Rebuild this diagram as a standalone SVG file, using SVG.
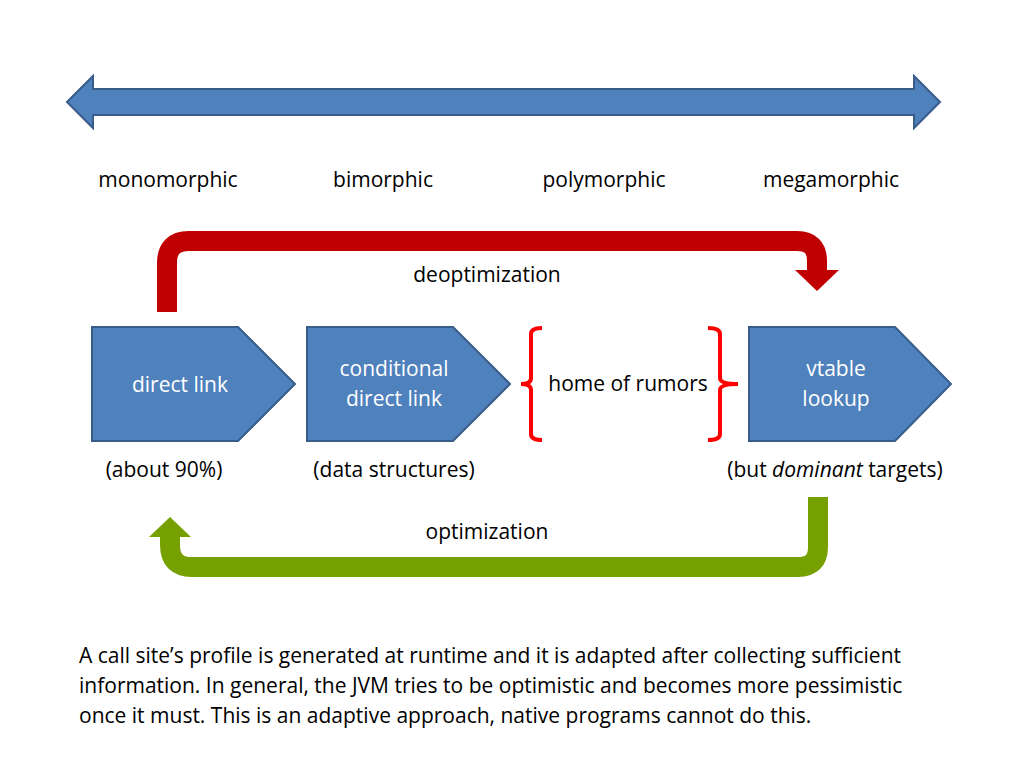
<svg xmlns="http://www.w3.org/2000/svg" width="1024" height="768" viewBox="0 0 1024 768">
<style>
text{font-family:"Open Sans","Liberation Sans",sans-serif;font-size:21px;fill:#000}
.w{fill:#fff;text-anchor:middle}
.n{fill:#4F81BD;stroke:#385D8A;stroke-width:2}
.br{fill:none;stroke:#FF0000;stroke-width:4}
</style>
<rect width="1024" height="768" fill="#fff"/>
<g id="scale">
<path class="n" d="M67,102 L93,76 L93,89 L914,89 L914,76 L940,102 L914,128 L914,115 L93,115 L93,128 Z"/>
<text x="168" y="187" text-anchor="middle">monomorphic</text>
<text x="383" y="187" text-anchor="middle">bimorphic</text>
<text x="604" y="187" text-anchor="middle">polymorphic</text>
<text x="831" y="187" text-anchor="middle">megamorphic</text>
</g>
<g id="connectors">
<path d="M167,312 L167,263 Q167,241 189,241 L797,241 Q817,241 817,261 L817,272" fill="none" stroke="#C00000" stroke-width="20"/>
<path d="M795,270 L839,270 L817,291 Z" fill="#C00000"/>
<text x="487" y="282" text-anchor="middle">deoptimization</text>
<path d="M818,497 L818,547 Q818,567 798,567 L192,567 Q170,567 170,545 L170,536" fill="none" stroke="#76A000" stroke-width="20"/>
<path d="M149,537 L191,537 L170,517 Z" fill="#76A000"/>
<text x="487" y="539" text-anchor="middle">optimization</text>
</g>
<g id="direct">
<path class="n" d="M92,327 L238,327 L295,384 L238,441 L92,441 Z"/>
<text class="w" x="180" y="392">direct link</text>
<text x="164" y="477" text-anchor="middle">(about 90%)</text>
</g>
<g id="conditional">
<path class="n" d="M307,327 L453,327 L510,384 L453,441 L307,441 Z"/>
<text class="w" x="394" y="376">conditional</text>
<text class="w" x="394" y="406">direct link</text>
<text x="394" y="477" text-anchor="middle">(data structures)</text>
</g>
<g id="rumors">
<path class="br" d="M542,328 Q531,328 531,334 L531,378 Q531,384 521,384 Q531,384 531,390 L531,434 Q531,440 542,440"/>
<path class="br" d="M708,328 Q720,328 720,334 L720,378 Q720,384 738,384 Q720,384 720,390 L720,434 Q720,440 708,440"/>
<text x="628" y="391" text-anchor="middle">home of rumors</text>
</g>
<g id="vtable">
<path class="n" d="M749,327 L895,327 L951,384 L895,441 L749,441 Z"/>
<text class="w" x="836" y="376">vtable</text>
<text class="w" x="836" y="406">lookup</text>
<text x="835" y="477" text-anchor="middle">(but <tspan font-style="italic">dominant</tspan> targets)</text>
</g>
<g id="caption">
<text x="79" y="663">A call site’s profile is generated at runtime and it is adapted after collecting sufficient</text>
<text x="79" y="693">information. In general, the JVM tries to be optimistic and becomes more pessimistic</text>
<text x="79" y="723">once it must. This is an adaptive approach, native programs cannot do this.</text>
</g>
</svg>
